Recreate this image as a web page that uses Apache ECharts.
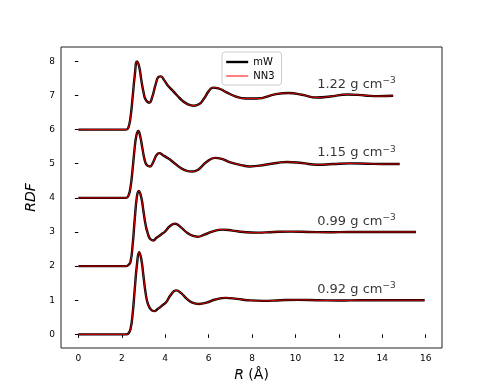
<!DOCTYPE html>
<html>
<head>
    <meta charset='UTF-8'>
    <script src='https://cdn.jsdelivr.net/npm/echarts@6/dist/echarts.min.js'></script>
    <style>
        html, body { margin: 0; padding: 0; background: #fff; }
        #chart { width: 491px; height: 392px; }
    </style>
</head>
<body>
    <div id="chart"></div>
    <script>
        // g(r), one set per density (curves shifted by offsets)
        const densities = ['0.92', '0.99', '1.15', '1.22']
        const offsets = [0, 2, 4, 6]

        const r092 = [0, 2.2, 2.3, 2.4, 2.5, 2.6, 2.7, 2.8, 2.9, 3.0, 3.1, 3.2, 3.35, 3.5, 3.65, 3.85, 4.05, 4.25, 4.5, 4.75, 5.0, 5.25, 5.55, 5.9, 6.3, 6.8, 7.3, 7.8, 8.5, 9.3, 10.1, 11.0, 12.0, 13.0, 14.0, 15.0, 15.95]
        const g092 = [0, 0, 0.02, 0.15, 0.6, 1.35, 2.05, 2.41, 2.2, 1.7, 1.2, 0.9, 0.72, 0.68, 0.74, 0.84, 0.95, 1.15, 1.29, 1.2, 1.04, 0.93, 0.89, 0.93, 1.02, 1.07, 1.04, 1.0, 0.98, 1.0, 1.01, 1.0, 0.99, 1.0, 1.0, 1.0, 1.0]

        const r099 = [0, 2.2, 2.3, 2.4, 2.5, 2.6, 2.7, 2.78, 2.9, 3.0, 3.1, 3.2, 3.3, 3.45, 3.6, 3.8, 4.0, 4.2, 4.45, 4.7, 5.0, 5.25, 5.5, 5.8, 6.2, 6.65, 7.1, 7.6, 8.2, 9.0, 9.8, 10.6, 11.5, 12.5, 13.5, 14.5, 15.55]
        const g099 = [0, 0, 0.03, 0.12, 0.62, 1.4, 2.05, 2.2, 2.0, 1.6, 1.2, 0.95, 0.8, 0.75, 0.83, 0.92, 1.02, 1.16, 1.24, 1.15, 0.98, 0.89, 0.86, 0.92, 1.02, 1.07, 1.04, 1.0, 0.98, 1.0, 1.01, 1.0, 0.99, 1.0, 1.0, 1.0, 1.0]

        const r115 = [0, 2.2, 2.3, 2.4, 2.5, 2.6, 2.68, 2.76, 2.85, 2.95, 3.05, 3.15, 3.3, 3.45, 3.6, 3.73, 3.9, 4.15, 4.4, 4.7, 5.0, 5.25, 5.55, 5.9, 6.3, 6.6, 7.0, 7.5, 7.9, 8.6, 9.2, 9.6, 10.3, 11.0, 11.7, 12.5, 13.3, 14.0, 14.8]
        const g115 = [0, 0, 0.05, 0.3, 0.85, 1.5, 1.85, 1.96, 1.8, 1.45, 1.12, 0.96, 0.92, 1.05, 1.25, 1.31, 1.25, 1.15, 1.03, 0.88, 0.79, 0.77, 0.84, 1.05, 1.17, 1.14, 1.04, 0.96, 0.92, 0.97, 1.03, 1.05, 1.02, 0.97, 0.99, 1.01, 1.0, 0.99, 0.99]

        const r122 = [0, 2.2, 2.3, 2.4, 2.5, 2.6, 2.7, 2.8, 2.9, 3.0, 3.1, 3.27, 3.4, 3.55, 3.7, 3.8, 3.95, 4.1, 4.3, 4.55, 4.8, 5.05, 5.3, 5.55, 5.8, 6.0, 6.2, 6.45, 6.8, 7.2, 7.7, 8.2, 9.1, 9.7, 10.3, 11.0, 11.6, 12.4, 13.2, 13.8, 14.5]
        const g122 = [0, 0, 0.05, 0.35, 0.95, 1.6, 2.0, 1.85, 1.45, 1.1, 0.88, 0.79, 0.95, 1.3, 1.55, 1.56, 1.45, 1.31, 1.17, 1.0, 0.84, 0.74, 0.7, 0.74, 0.92, 1.12, 1.23, 1.21, 1.1, 0.98, 0.91, 0.91, 1.04, 1.07, 1.02, 0.94, 0.97, 1.03, 1.0, 0.98, 0.99]

        const rs = [r092, r099, r115, r122]
        const gs = [g092, g099, g115, g122]

        const xTicks = [0, 2, 4, 6, 8, 10, 12, 14, 16]
        const yTicks = [0, 1, 2, 3, 4, 5, 6, 7, 8]
        const labelR = 11
        const labelShift = 1.2

        const font = 'DejaVu Sans'
        const myChart = echarts.init(document.getElementById('chart'))

        const lines = []
        rs.forEach((r, k) => {
            const pts = r.map((x, i) => [x, gs[k][i] + offsets[k]])
            lines.push({
                name: 'mW', type: 'line', data: pts, symbol: 'none', smooth: 0.5,
                animation: false,
                lineStyle: { color: '#000', width: 2.4 }, itemStyle: { color: '#000' }, z: 2
            })
        })
        rs.forEach((r, k) => {
            const pts = r.map((x, i) => [x, gs[k][i] + offsets[k]])
            lines.push({
                name: 'NN3', type: 'line', data: pts, symbol: 'none', smooth: 0.5,
                animation: false,
                lineStyle: { color: '#ff0000', width: 0.9 }, itemStyle: { color: '#ff0000' }, z: 3
            })
        })

        lines.push({
            type: 'scatter', symbolSize: 0, animation: false, silent: true,
            data: densities.map((d, k) => [labelR, offsets[k] + labelShift]),
            label: {
                show: true, position: [0, 0], align: 'left', verticalAlign: 'bottom',
                offset: [0, 4],
                formatter: p => '{a|' + densities[p.dataIndex] + ' g cm}{s|\u22123}',
                rich: {
                    a: { fontFamily: font, fontSize: 13, color: '#000', lineHeight: 16 },
                    s: { fontFamily: font, fontSize: 9, color: '#000', verticalAlign: 'top', lineHeight: 16, padding: [0, 0, 7, 0] }
                }
            }
        })

        myChart.setOption({
            animation: false,
            grid: { left: 61, right: 49, top: 47, bottom: 44, show: true, borderColor: '#222', borderWidth: 1 },
            legend: {
                data: [
                    { name: 'mW', lineStyle: { width: 2.4 } },
                    { name: 'NN3', lineStyle: { width: 1 } }
                ],
                orient: 'vertical', left: 222, top: 52,
                padding: [5, 7, 4, 3], itemGap: 4, itemWidth: 22, itemHeight: 10,
                itemStyle: { opacity: 0 },
                borderColor: '#ccc', borderWidth: 1, borderRadius: 3, backgroundColor: '#fff',
                textStyle: { fontFamily: font, fontSize: 10, color: '#000' }
            },
            xAxis: {
                type: 'value', min: -0.8, max: 16.75,
                name: '{i|R} (Å)', nameLocation: 'middle', nameGap: 18,
                nameTextStyle: {
                    fontFamily: font, fontSize: 14, color: '#000',
                    rich: { i: { fontFamily: font, fontSize: 14, fontStyle: 'italic', color: '#000' } }
                },
                axisLine: { show: false },
                axisTick: { show: true, length: 3.5, lineStyle: { color: '#000' }, customValues: xTicks },
                axisLabel: { fontFamily: font, fontSize: 9, color: '#000', margin: 6, customValues: xTicks },
                splitLine: { show: false }
            },
            yAxis: {
                type: 'value', min: -0.4, max: 8.42,
                name: 'RDF', nameLocation: 'middle', nameGap: 14,
                nameTextStyle: { fontFamily: font, fontSize: 14, fontStyle: 'italic', color: '#000' },
                axisLine: { show: false },
                axisTick: { show: true, length: 3.5, lineStyle: { color: '#000' }, customValues: yTicks },
                axisLabel: { fontFamily: font, fontSize: 9, color: '#000', margin: 6, customValues: yTicks },
                splitLine: { show: false }
            },
            series: lines
        })
    </script>
</body>
</html>
